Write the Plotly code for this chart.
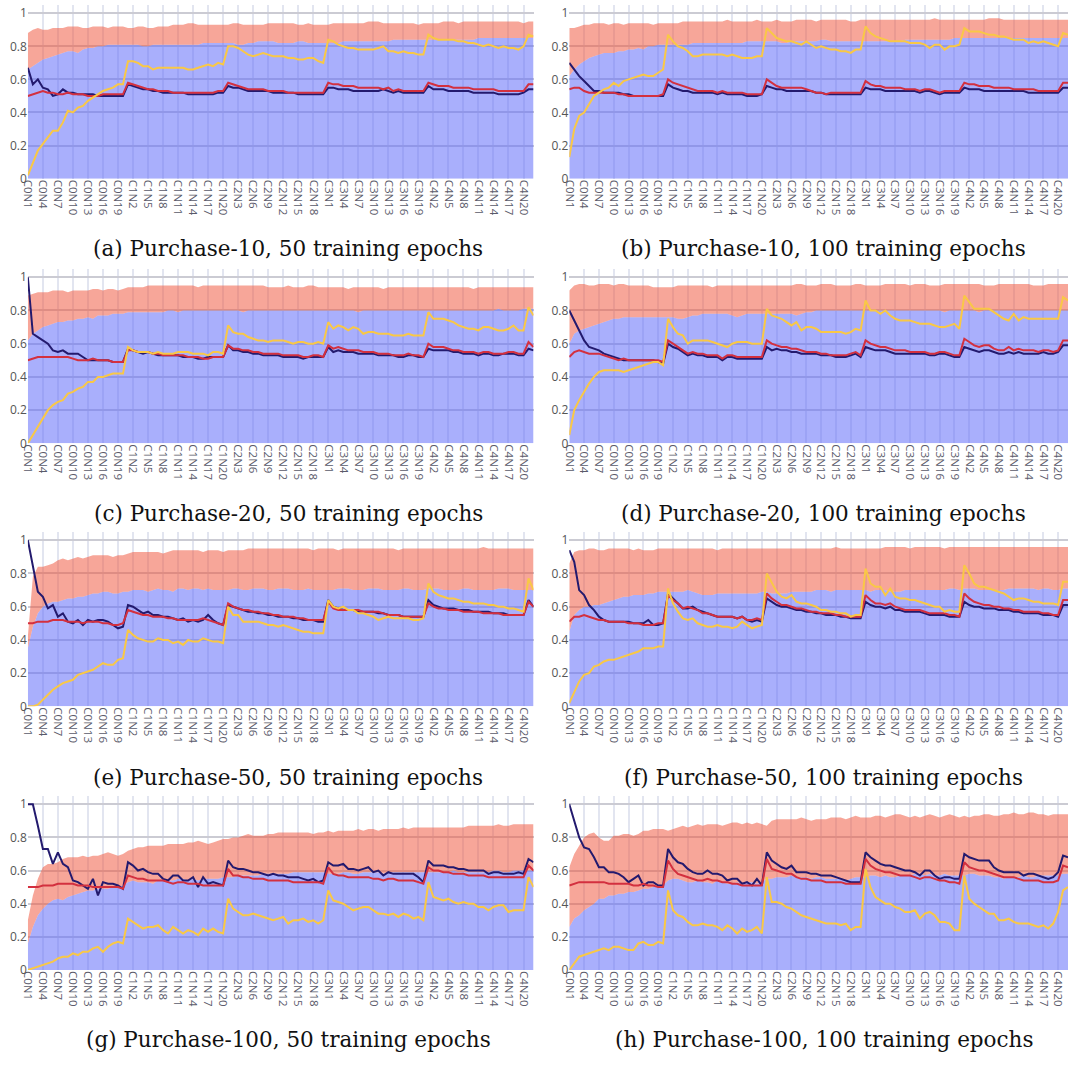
import plotly.graph_objects as go

# ---------------- categories ----------------
group_names = ["C0", "C1", "C2", "C3", "C4", "C5"]
group_sizes = [20, 20, 20, 20, 20, 2]
categories = [f"{g}N{k}" for g, n in zip(group_names, group_sizes) for k in range(1, n + 1)]

captions = [
    "(a) Purchase-10, 50 training epochs", "(b) Purchase-10, 100 training epochs",
    "(c) Purchase-20, 50 training epochs", "(d) Purchase-20, 100 training epochs",
    "(e) Purchase-50, 50 training epochs", "(f) Purchase-50, 100 training epochs",
    "(g) Purchase-100, 50 training epochs", "(h) Purchase-100, 100 training epochs",
]

# ---------------- panel (a) ----------------
a_blue = [0.66,0.68,0.70,0.72,0.73,0.74,0.75,0.76,0.77,0.77,0.76,0.78,0.79,0.79,0.80,0.80,0.81,0.81,0.81,0.81,
          0.81,0.81,0.81,0.80,0.80,0.81,0.81,0.81,0.81,0.81,0.81,0.81,0.81,0.81,0.81,0.82,0.82,0.82,0.82,0.82,
          0.82,0.82,0.81,0.81,0.82,0.82,0.83,0.83,0.83,0.83,0.82,0.82,0.82,0.82,0.83,0.83,0.82,0.82,0.82,0.82,
          0.82,0.82,0.82,0.83,0.83,0.83,0.83,0.83,0.83,0.83,0.83,0.83,0.83,0.84,0.84,0.84,0.84,0.84,0.84,0.84,
          0.84,0.84,0.84,0.84,0.84,0.84,0.84,0.84,0.84,0.84,0.85,0.85,0.85,0.85,0.85,0.85,0.85,0.85,0.85,0.85,
          0.85,0.85]
a_train = [0.88,0.90,0.91,0.90,0.90,0.91,0.91,0.91,0.92,0.92,0.92,0.91,0.91,0.92,0.92,0.92,0.91,0.92,0.92,0.92,
           0.91,0.91,0.92,0.92,0.91,0.91,0.92,0.92,0.92,0.93,0.93,0.93,0.94,0.94,0.93,0.93,0.93,0.93,0.93,0.93,
           0.93,0.94,0.94,0.93,0.93,0.93,0.93,0.93,0.94,0.94,0.94,0.94,0.94,0.94,0.93,0.93,0.94,0.93,0.93,0.93,
           0.93,0.94,0.94,0.94,0.94,0.94,0.94,0.94,0.95,0.95,0.95,0.94,0.94,0.94,0.94,0.94,0.94,0.94,0.93,0.94,
           0.94,0.94,0.94,0.95,0.95,0.95,0.94,0.95,0.95,0.95,0.95,0.95,0.95,0.95,0.95,0.95,0.95,0.95,0.95,0.94,
           0.95,0.95]
a_navy = [0.67,0.57,0.60,0.55,0.54,0.50,0.51,0.54,0.52,0.52,0.51,0.51,0.51,0.51,0.50,0.50,0.50,0.50,0.50,0.50,
          0.57,0.56,0.55,0.54,0.54,0.53,0.53,0.52,0.52,0.52,0.52,0.52,0.51,0.51,0.51,0.51,0.51,0.51,0.52,0.52,
          0.56,0.55,0.55,0.54,0.53,0.53,0.53,0.53,0.53,0.52,0.52,0.52,0.52,0.52,0.51,0.51,0.51,0.51,0.51,0.51,
          0.55,0.55,0.54,0.54,0.54,0.53,0.53,0.53,0.53,0.53,0.53,0.54,0.53,0.52,0.53,0.52,0.52,0.52,0.52,0.52,
          0.56,0.54,0.54,0.54,0.53,0.53,0.53,0.53,0.53,0.52,0.52,0.52,0.52,0.52,0.51,0.51,0.51,0.51,0.51,0.52,
          0.54,0.54]
a_red = [0.50,0.51,0.52,0.53,0.52,0.52,0.51,0.51,0.52,0.51,0.51,0.51,0.50,0.50,0.50,0.51,0.51,0.51,0.51,0.51,
         0.58,0.57,0.56,0.55,0.54,0.54,0.53,0.53,0.53,0.52,0.52,0.52,0.52,0.52,0.52,0.52,0.52,0.52,0.53,0.53,
         0.58,0.57,0.56,0.55,0.54,0.54,0.54,0.54,0.53,0.53,0.53,0.53,0.52,0.52,0.52,0.52,0.52,0.52,0.52,0.52,
         0.58,0.57,0.57,0.56,0.56,0.56,0.55,0.55,0.55,0.55,0.55,0.54,0.55,0.53,0.54,0.53,0.53,0.53,0.53,0.53,
         0.58,0.57,0.56,0.56,0.56,0.55,0.55,0.55,0.55,0.54,0.54,0.54,0.54,0.54,0.53,0.53,0.53,0.53,0.53,0.53,
         0.57,0.57]
a_yellow = [0.02,0.10,0.17,0.21,0.25,0.29,0.29,0.34,0.41,0.40,0.43,0.44,0.47,0.49,0.51,0.53,0.54,0.55,0.57,0.57,
            0.71,0.71,0.70,0.68,0.68,0.66,0.67,0.67,0.67,0.67,0.67,0.67,0.66,0.66,0.67,0.68,0.69,0.68,0.70,0.69,
            0.80,0.80,0.79,0.77,0.75,0.74,0.75,0.76,0.75,0.74,0.74,0.74,0.73,0.73,0.72,0.72,0.73,0.73,0.71,0.70,
            0.84,0.83,0.81,0.80,0.79,0.79,0.78,0.78,0.78,0.78,0.79,0.80,0.77,0.77,0.76,0.77,0.76,0.76,0.75,0.75,
            0.87,0.85,0.84,0.84,0.84,0.84,0.83,0.83,0.82,0.82,0.81,0.80,0.81,0.80,0.79,0.80,0.79,0.79,0.78,0.80,
            0.87,0.86]

# ---------------- panel (b) ----------------
b_blue = [0.62,0.66,0.69,0.71,0.73,0.74,0.75,0.76,0.76,0.76,0.77,0.77,0.78,0.78,0.79,0.78,0.80,0.80,0.81,0.81,
          0.81,0.81,0.81,0.81,0.81,0.82,0.82,0.82,0.82,0.82,0.82,0.82,0.82,0.82,0.82,0.82,0.83,0.83,0.83,0.83,
          0.83,0.83,0.83,0.82,0.82,0.83,0.83,0.83,0.83,0.83,0.83,0.84,0.84,0.83,0.83,0.83,0.83,0.83,0.83,0.83,
          0.83,0.83,0.83,0.83,0.83,0.83,0.83,0.83,0.84,0.84,0.84,0.84,0.84,0.84,0.84,0.84,0.84,0.84,0.85,0.85,
          0.85,0.85,0.85,0.85,0.85,0.85,0.85,0.85,0.85,0.85,0.85,0.85,0.85,0.85,0.85,0.85,0.85,0.85,0.85,0.85,
          0.85,0.85]
b_train = [0.91,0.91,0.92,0.93,0.93,0.94,0.94,0.94,0.93,0.94,0.94,0.93,0.94,0.94,0.94,0.94,0.94,0.93,0.94,0.94,
           0.94,0.94,0.94,0.95,0.95,0.95,0.95,0.95,0.95,0.95,0.95,0.95,0.96,0.95,0.95,0.95,0.95,0.95,0.96,0.95,
           0.95,0.95,0.96,0.95,0.95,0.95,0.96,0.96,0.96,0.96,0.95,0.96,0.96,0.96,0.96,0.96,0.96,0.95,0.95,0.96,
           0.96,0.96,0.96,0.96,0.96,0.96,0.96,0.96,0.96,0.96,0.96,0.96,0.96,0.96,0.97,0.96,0.96,0.96,0.96,0.96,
           0.96,0.96,0.96,0.96,0.96,0.97,0.97,0.97,0.96,0.96,0.96,0.96,0.96,0.96,0.96,0.96,0.96,0.96,0.96,0.96,
           0.96,0.96]
b_navy = [0.70,0.66,0.62,0.59,0.56,0.53,0.53,0.52,0.52,0.52,0.52,0.51,0.51,0.50,0.50,0.50,0.50,0.50,0.50,0.50,
          0.57,0.55,0.54,0.53,0.53,0.52,0.52,0.52,0.52,0.52,0.51,0.52,0.51,0.51,0.51,0.51,0.50,0.50,0.50,0.51,
          0.56,0.55,0.54,0.54,0.53,0.53,0.53,0.53,0.53,0.53,0.52,0.52,0.51,0.51,0.51,0.51,0.51,0.51,0.51,0.51,
          0.55,0.54,0.54,0.54,0.53,0.53,0.53,0.53,0.53,0.53,0.53,0.52,0.53,0.53,0.52,0.51,0.52,0.52,0.52,0.52,
          0.55,0.54,0.54,0.54,0.53,0.53,0.53,0.53,0.53,0.53,0.53,0.53,0.53,0.52,0.52,0.52,0.52,0.52,0.52,0.52,
          0.55,0.55]
b_red = [0.54,0.55,0.55,0.53,0.52,0.52,0.52,0.52,0.52,0.52,0.51,0.51,0.50,0.50,0.50,0.50,0.50,0.50,0.50,0.51,
         0.60,0.58,0.57,0.56,0.55,0.54,0.53,0.53,0.53,0.53,0.52,0.53,0.52,0.52,0.52,0.52,0.51,0.51,0.51,0.51,
         0.60,0.58,0.56,0.55,0.55,0.55,0.55,0.55,0.54,0.53,0.52,0.52,0.51,0.52,0.52,0.52,0.52,0.52,0.52,0.52,
         0.59,0.57,0.56,0.56,0.55,0.55,0.55,0.55,0.54,0.54,0.54,0.53,0.54,0.54,0.53,0.52,0.53,0.53,0.53,0.53,
         0.58,0.57,0.57,0.56,0.56,0.56,0.55,0.55,0.55,0.55,0.54,0.54,0.54,0.54,0.54,0.53,0.53,0.53,0.53,0.53,
         0.58,0.58]
b_yellow = [0.13,0.30,0.38,0.40,0.45,0.50,0.52,0.54,0.55,0.58,0.56,0.59,0.60,0.61,0.62,0.63,0.62,0.62,0.64,0.66,
            0.87,0.83,0.80,0.79,0.77,0.74,0.74,0.75,0.75,0.75,0.75,0.75,0.74,0.75,0.74,0.73,0.73,0.73,0.74,0.74,
            0.91,0.88,0.85,0.84,0.83,0.83,0.82,0.81,0.83,0.81,0.79,0.80,0.79,0.78,0.78,0.77,0.77,0.76,0.78,0.78,
            0.92,0.88,0.86,0.85,0.84,0.83,0.83,0.83,0.83,0.82,0.82,0.82,0.81,0.79,0.81,0.81,0.78,0.80,0.80,0.81,
            0.91,0.89,0.89,0.89,0.88,0.87,0.87,0.86,0.86,0.85,0.84,0.84,0.84,0.82,0.83,0.82,0.83,0.82,0.81,0.80,
            0.88,0.87]

# ---------------- panel (c) ----------------
c_blue = [0.62,0.66,0.68,0.70,0.71,0.72,0.73,0.73,0.74,0.74,0.75,0.75,0.76,0.75,0.77,0.77,0.77,0.78,0.78,0.78,
          0.79,0.79,0.79,0.79,0.79,0.79,0.79,0.79,0.80,0.80,0.79,0.80,0.80,0.80,0.80,0.80,0.80,0.80,0.80,0.80,
          0.80,0.80,0.80,0.79,0.80,0.80,0.80,0.80,0.80,0.80,0.80,0.80,0.80,0.80,0.80,0.80,0.80,0.80,0.80,0.80,
          0.80,0.80,0.80,0.80,0.80,0.80,0.79,0.80,0.80,0.80,0.80,0.80,0.80,0.80,0.80,0.80,0.80,0.80,0.80,0.80,
          0.80,0.80,0.80,0.80,0.80,0.80,0.80,0.80,0.80,0.80,0.80,0.80,0.80,0.80,0.81,0.80,0.80,0.80,0.80,0.81,
          0.81,0.81]
c_train = [0.89,0.90,0.91,0.91,0.91,0.92,0.92,0.92,0.91,0.92,0.92,0.92,0.92,0.93,0.93,0.92,0.93,0.93,0.92,0.93,
           0.94,0.94,0.94,0.94,0.95,0.95,0.95,0.95,0.95,0.95,0.95,0.95,0.95,0.95,0.94,0.95,0.95,0.95,0.95,0.95,
           0.95,0.95,0.95,0.95,0.95,0.95,0.95,0.95,0.94,0.94,0.94,0.94,0.95,0.94,0.94,0.94,0.95,0.95,0.94,0.94,
           0.94,0.94,0.94,0.94,0.93,0.94,0.94,0.94,0.94,0.94,0.94,0.93,0.94,0.94,0.94,0.94,0.94,0.94,0.94,0.94,
           0.94,0.94,0.94,0.94,0.94,0.94,0.94,0.94,0.94,0.93,0.94,0.94,0.94,0.94,0.94,0.94,0.94,0.94,0.94,0.94,
           0.94,0.94]
c_navy = [1.00,0.66,0.64,0.62,0.60,0.56,0.55,0.56,0.54,0.54,0.54,0.52,0.50,0.50,0.50,0.50,0.50,0.49,0.49,0.49,
          0.57,0.56,0.55,0.54,0.55,0.54,0.53,0.53,0.53,0.53,0.53,0.52,0.52,0.52,0.51,0.51,0.52,0.52,0.52,0.52,
          0.59,0.56,0.56,0.55,0.55,0.54,0.54,0.53,0.53,0.53,0.53,0.52,0.52,0.52,0.52,0.51,0.52,0.52,0.52,0.52,
          0.58,0.55,0.56,0.55,0.55,0.55,0.54,0.54,0.54,0.54,0.53,0.53,0.53,0.53,0.52,0.52,0.53,0.53,0.52,0.52,
          0.57,0.56,0.56,0.56,0.56,0.55,0.55,0.54,0.54,0.54,0.53,0.54,0.54,0.53,0.53,0.54,0.54,0.54,0.53,0.53,
          0.57,0.56]
c_red = [0.50,0.51,0.52,0.52,0.52,0.52,0.52,0.52,0.52,0.51,0.50,0.50,0.50,0.51,0.50,0.50,0.50,0.49,0.49,0.49,
         0.56,0.56,0.55,0.55,0.55,0.54,0.54,0.53,0.53,0.53,0.53,0.53,0.52,0.52,0.52,0.51,0.51,0.52,0.52,0.52,
         0.59,0.57,0.57,0.56,0.56,0.55,0.55,0.54,0.54,0.54,0.54,0.53,0.53,0.53,0.53,0.52,0.52,0.53,0.53,0.52,
         0.59,0.57,0.58,0.57,0.56,0.56,0.56,0.55,0.55,0.55,0.54,0.54,0.54,0.53,0.53,0.53,0.54,0.53,0.53,0.52,
         0.60,0.58,0.58,0.58,0.57,0.56,0.56,0.55,0.55,0.55,0.54,0.55,0.55,0.54,0.54,0.54,0.55,0.55,0.54,0.54,
         0.61,0.58]
c_yellow = [0.00,0.05,0.10,0.15,0.20,0.23,0.25,0.26,0.30,0.31,0.33,0.34,0.37,0.37,0.40,0.40,0.41,0.42,0.42,0.42,
            0.58,0.56,0.55,0.55,0.55,0.54,0.55,0.54,0.54,0.54,0.55,0.55,0.55,0.54,0.54,0.54,0.53,0.55,0.55,0.54,
            0.71,0.67,0.66,0.66,0.64,0.63,0.62,0.62,0.61,0.62,0.62,0.62,0.61,0.60,0.61,0.61,0.60,0.60,0.61,0.60,
            0.73,0.69,0.71,0.70,0.68,0.70,0.69,0.66,0.67,0.67,0.66,0.66,0.66,0.65,0.65,0.65,0.66,0.65,0.65,0.65,
            0.79,0.75,0.75,0.75,0.74,0.73,0.71,0.70,0.69,0.69,0.68,0.70,0.70,0.69,0.68,0.68,0.69,0.71,0.68,0.68,
            0.82,0.77]

# ---------------- panel (d) ----------------
d_blue = [0.60,0.66,0.68,0.69,0.70,0.71,0.72,0.73,0.74,0.75,0.75,0.76,0.76,0.76,0.76,0.76,0.76,0.76,0.76,0.76,
          0.76,0.76,0.75,0.75,0.76,0.77,0.77,0.78,0.78,0.78,0.78,0.78,0.78,0.77,0.76,0.77,0.78,0.78,0.78,0.78,
          0.78,0.78,0.78,0.78,0.78,0.78,0.77,0.78,0.79,0.79,0.80,0.80,0.80,0.80,0.80,0.80,0.80,0.80,0.80,0.80,
          0.80,0.80,0.80,0.80,0.80,0.80,0.80,0.80,0.80,0.80,0.80,0.80,0.80,0.80,0.80,0.80,0.79,0.80,0.80,0.80,
          0.80,0.80,0.80,0.79,0.80,0.80,0.80,0.80,0.80,0.80,0.80,0.80,0.80,0.80,0.80,0.80,0.80,0.80,0.80,0.80,
          0.80,0.80]
d_train = [0.92,0.95,0.96,0.96,0.95,0.95,0.96,0.96,0.96,0.95,0.96,0.96,0.95,0.95,0.95,0.95,0.95,0.94,0.94,0.94,
           0.94,0.94,0.95,0.95,0.95,0.95,0.95,0.95,0.95,0.94,0.95,0.95,0.95,0.95,0.95,0.95,0.95,0.95,0.95,0.95,
           0.95,0.95,0.95,0.95,0.95,0.95,0.96,0.96,0.95,0.95,0.95,0.96,0.96,0.96,0.95,0.95,0.95,0.95,0.96,0.96,
           0.95,0.95,0.95,0.95,0.96,0.96,0.96,0.96,0.96,0.95,0.96,0.96,0.96,0.95,0.95,0.95,0.96,0.96,0.96,0.96,
           0.96,0.96,0.96,0.96,0.95,0.95,0.95,0.96,0.96,0.96,0.96,0.96,0.96,0.96,0.95,0.95,0.95,0.96,0.96,0.96,
           0.96,0.96]
d_navy = [0.80,0.74,0.68,0.62,0.58,0.57,0.56,0.54,0.53,0.52,0.51,0.50,0.50,0.50,0.50,0.50,0.50,0.50,0.49,0.48,
          0.60,0.58,0.57,0.55,0.53,0.54,0.53,0.53,0.52,0.52,0.52,0.50,0.52,0.52,0.51,0.51,0.51,0.51,0.51,0.51,
          0.58,0.56,0.57,0.56,0.56,0.55,0.55,0.54,0.54,0.54,0.54,0.53,0.53,0.53,0.52,0.52,0.52,0.53,0.54,0.52,
          0.58,0.57,0.56,0.56,0.56,0.55,0.54,0.54,0.54,0.54,0.54,0.54,0.54,0.53,0.53,0.54,0.54,0.53,0.52,0.52,
          0.58,0.57,0.56,0.55,0.56,0.56,0.55,0.54,0.54,0.55,0.54,0.55,0.54,0.54,0.54,0.54,0.55,0.54,0.54,0.55,
          0.59,0.59]
d_red = [0.52,0.55,0.56,0.55,0.54,0.54,0.54,0.53,0.52,0.51,0.50,0.51,0.50,0.50,0.50,0.50,0.50,0.50,0.50,0.49,
         0.62,0.60,0.58,0.56,0.54,0.55,0.54,0.54,0.53,0.53,0.53,0.51,0.53,0.53,0.52,0.52,0.52,0.52,0.52,0.52,
         0.62,0.60,0.59,0.58,0.58,0.57,0.57,0.56,0.55,0.55,0.55,0.54,0.54,0.53,0.53,0.53,0.53,0.54,0.55,0.53,
         0.62,0.60,0.59,0.58,0.58,0.57,0.56,0.56,0.56,0.55,0.55,0.55,0.55,0.54,0.54,0.55,0.55,0.54,0.53,0.53,
         0.63,0.61,0.59,0.58,0.59,0.59,0.57,0.56,0.56,0.58,0.56,0.57,0.56,0.56,0.56,0.55,0.56,0.56,0.55,0.56,
         0.62,0.62]
d_yellow = [0.05,0.20,0.26,0.31,0.36,0.40,0.43,0.44,0.44,0.44,0.44,0.43,0.44,0.45,0.46,0.47,0.48,0.49,0.49,0.47,
            0.75,0.70,0.66,0.65,0.60,0.62,0.62,0.62,0.62,0.61,0.60,0.59,0.58,0.60,0.61,0.61,0.61,0.60,0.60,0.60,
            0.81,0.77,0.76,0.75,0.73,0.71,0.73,0.68,0.70,0.70,0.69,0.67,0.67,0.67,0.67,0.67,0.66,0.67,0.69,0.68,
            0.86,0.80,0.80,0.78,0.80,0.77,0.75,0.74,0.74,0.74,0.73,0.72,0.72,0.72,0.71,0.70,0.70,0.71,0.72,0.69,
            0.89,0.85,0.81,0.81,0.81,0.81,0.79,0.77,0.75,0.74,0.78,0.74,0.76,0.75,0.75,0.75,0.75,0.75,0.75,0.75,
            0.88,0.86]

# ---------------- panel (e) ----------------
e_blue = [0.35,0.48,0.56,0.60,0.62,0.63,0.63,0.64,0.65,0.65,0.66,0.66,0.67,0.68,0.68,0.69,0.69,0.68,0.68,0.69,
          0.69,0.70,0.70,0.70,0.69,0.70,0.71,0.70,0.70,0.69,0.71,0.71,0.70,0.71,0.71,0.70,0.71,0.70,0.70,0.70,
          0.70,0.71,0.71,0.70,0.70,0.71,0.71,0.71,0.70,0.70,0.71,0.71,0.71,0.70,0.70,0.70,0.71,0.70,0.70,0.70,
          0.70,0.70,0.71,0.71,0.71,0.70,0.70,0.70,0.71,0.71,0.71,0.70,0.70,0.70,0.70,0.71,0.71,0.70,0.70,0.70,
          0.71,0.71,0.71,0.70,0.70,0.70,0.70,0.71,0.71,0.70,0.70,0.70,0.70,0.70,0.71,0.71,0.71,0.70,0.70,0.70,
          0.70,0.70]
e_train = [0.42,0.78,0.84,0.84,0.85,0.86,0.88,0.89,0.88,0.89,0.90,0.89,0.90,0.91,0.91,0.91,0.91,0.90,0.91,0.91,
           0.92,0.93,0.93,0.93,0.93,0.93,0.93,0.92,0.93,0.94,0.94,0.94,0.94,0.94,0.94,0.93,0.94,0.94,0.94,0.93,
           0.94,0.94,0.94,0.94,0.95,0.95,0.95,0.95,0.95,0.95,0.95,0.95,0.95,0.95,0.95,0.95,0.95,0.94,0.95,0.95,
           0.95,0.95,0.94,0.95,0.95,0.95,0.95,0.95,0.95,0.95,0.95,0.95,0.95,0.95,0.94,0.95,0.95,0.95,0.95,0.95,
           0.95,0.95,0.95,0.95,0.95,0.95,0.95,0.95,0.95,0.95,0.95,0.96,0.95,0.95,0.95,0.95,0.95,0.95,0.95,0.95,
           0.95,0.95]
e_navy = [1.00,0.85,0.69,0.66,0.59,0.61,0.54,0.56,0.51,0.50,0.52,0.49,0.52,0.51,0.52,0.52,0.51,0.49,0.47,0.48,
          0.61,0.60,0.58,0.56,0.57,0.55,0.55,0.54,0.54,0.53,0.52,0.53,0.51,0.52,0.51,0.52,0.55,0.52,0.50,0.49,
          0.61,0.60,0.59,0.58,0.57,0.57,0.56,0.56,0.55,0.55,0.54,0.54,0.54,0.53,0.53,0.52,0.52,0.52,0.51,0.51,
          0.64,0.60,0.59,0.58,0.58,0.58,0.57,0.57,0.57,0.57,0.56,0.56,0.55,0.55,0.55,0.54,0.54,0.54,0.54,0.54,
          0.64,0.61,0.60,0.59,0.59,0.59,0.58,0.58,0.58,0.57,0.57,0.57,0.57,0.56,0.56,0.56,0.55,0.55,0.55,0.55,
          0.64,0.60]
e_red = [0.50,0.50,0.51,0.51,0.51,0.52,0.52,0.52,0.51,0.51,0.51,0.50,0.51,0.51,0.51,0.50,0.50,0.49,0.49,0.50,
         0.58,0.57,0.56,0.55,0.55,0.54,0.54,0.54,0.53,0.53,0.52,0.52,0.52,0.52,0.52,0.53,0.52,0.51,0.50,0.49,
         0.62,0.60,0.59,0.58,0.58,0.57,0.57,0.56,0.56,0.55,0.55,0.54,0.54,0.54,0.53,0.53,0.52,0.52,0.52,0.52,
         0.63,0.59,0.58,0.58,0.58,0.58,0.58,0.57,0.57,0.57,0.57,0.56,0.55,0.55,0.55,0.54,0.54,0.54,0.54,0.54,
         0.62,0.60,0.59,0.59,0.58,0.58,0.58,0.57,0.57,0.57,0.57,0.56,0.56,0.56,0.56,0.55,0.55,0.55,0.55,0.55,
         0.63,0.60]
e_yellow = [0.00,0.00,0.01,0.04,0.07,0.10,0.12,0.14,0.15,0.16,0.19,0.20,0.21,0.22,0.24,0.26,0.25,0.25,0.28,0.29,
            0.46,0.43,0.41,0.40,0.39,0.39,0.41,0.40,0.40,0.38,0.39,0.37,0.40,0.39,0.39,0.41,0.40,0.39,0.39,0.38,
            0.60,0.55,0.55,0.51,0.51,0.51,0.51,0.50,0.49,0.49,0.48,0.49,0.48,0.47,0.46,0.45,0.45,0.44,0.44,0.44,
            0.64,0.60,0.59,0.60,0.58,0.58,0.56,0.56,0.55,0.54,0.52,0.53,0.54,0.53,0.53,0.53,0.53,0.52,0.52,0.53,
            0.74,0.69,0.67,0.66,0.65,0.65,0.64,0.63,0.63,0.62,0.62,0.62,0.61,0.61,0.60,0.60,0.59,0.59,0.58,0.57,
            0.77,0.70]

# ---------------- panel (f) ----------------
f_blue = [0.45,0.55,0.58,0.60,0.60,0.61,0.61,0.62,0.63,0.64,0.65,0.66,0.66,0.67,0.67,0.67,0.68,0.68,0.69,0.69,
          0.69,0.69,0.69,0.69,0.70,0.69,0.68,0.67,0.67,0.67,0.68,0.68,0.68,0.68,0.68,0.68,0.68,0.68,0.68,0.69,
          0.69,0.68,0.68,0.68,0.68,0.69,0.69,0.69,0.69,0.69,0.70,0.70,0.70,0.69,0.70,0.70,0.70,0.70,0.70,0.70,
          0.70,0.69,0.70,0.70,0.70,0.69,0.69,0.69,0.70,0.70,0.70,0.70,0.70,0.70,0.70,0.70,0.70,0.71,0.71,0.70,
          0.71,0.71,0.71,0.70,0.70,0.70,0.70,0.70,0.70,0.71,0.71,0.71,0.71,0.71,0.71,0.70,0.71,0.71,0.70,0.70,
          0.71,0.71]
f_train = [0.86,0.93,0.94,0.94,0.95,0.95,0.94,0.94,0.95,0.95,0.95,0.95,0.95,0.94,0.95,0.94,0.94,0.94,0.95,0.95,
           0.95,0.95,0.95,0.95,0.95,0.95,0.95,0.95,0.95,0.95,0.94,0.95,0.95,0.95,0.95,0.95,0.95,0.95,0.95,0.95,
           0.95,0.95,0.95,0.95,0.95,0.95,0.95,0.95,0.95,0.95,0.95,0.95,0.95,0.95,0.96,0.95,0.95,0.95,0.95,0.95,
           0.95,0.95,0.95,0.95,0.96,0.96,0.96,0.96,0.96,0.95,0.96,0.96,0.96,0.96,0.96,0.96,0.95,0.96,0.96,0.96,
           0.96,0.96,0.96,0.96,0.96,0.96,0.96,0.96,0.96,0.96,0.96,0.96,0.96,0.96,0.96,0.96,0.96,0.96,0.96,0.96,
           0.96,0.96]
f_navy = [0.94,0.87,0.70,0.67,0.61,0.58,0.54,0.52,0.51,0.51,0.51,0.51,0.51,0.50,0.50,0.50,0.52,0.49,0.49,0.50,
          0.68,0.65,0.62,0.59,0.59,0.60,0.58,0.57,0.56,0.55,0.54,0.54,0.54,0.54,0.53,0.54,0.52,0.51,0.52,0.51,
          0.65,0.63,0.61,0.60,0.60,0.59,0.58,0.58,0.57,0.57,0.56,0.56,0.55,0.55,0.55,0.54,0.54,0.53,0.53,0.53,
          0.63,0.61,0.60,0.60,0.59,0.60,0.58,0.58,0.57,0.57,0.57,0.57,0.56,0.55,0.55,0.55,0.55,0.54,0.54,0.54,
          0.63,0.61,0.60,0.60,0.59,0.59,0.59,0.58,0.58,0.58,0.57,0.57,0.56,0.56,0.56,0.56,0.55,0.55,0.55,0.54,
          0.61,0.61]
f_red = [0.51,0.54,0.54,0.55,0.54,0.53,0.52,0.52,0.51,0.51,0.51,0.51,0.50,0.50,0.50,0.49,0.49,0.49,0.50,0.50,
         0.67,0.64,0.62,0.59,0.60,0.59,0.58,0.56,0.56,0.55,0.54,0.54,0.54,0.54,0.53,0.54,0.52,0.52,0.53,0.52,
         0.68,0.65,0.63,0.61,0.61,0.60,0.59,0.59,0.58,0.57,0.57,0.56,0.56,0.56,0.55,0.55,0.54,0.54,0.54,0.54,
         0.67,0.64,0.62,0.62,0.61,0.62,0.60,0.59,0.58,0.58,0.58,0.58,0.57,0.56,0.56,0.56,0.56,0.55,0.55,0.54,
         0.68,0.65,0.63,0.62,0.61,0.61,0.60,0.60,0.59,0.59,0.58,0.58,0.57,0.57,0.57,0.57,0.56,0.56,0.55,0.55,
         0.64,0.64]
f_yellow = [0.02,0.09,0.15,0.19,0.20,0.24,0.25,0.27,0.28,0.28,0.29,0.30,0.31,0.32,0.33,0.35,0.35,0.35,0.36,0.36,
            0.71,0.62,0.57,0.53,0.52,0.53,0.50,0.49,0.48,0.48,0.49,0.48,0.48,0.47,0.48,0.51,0.49,0.47,0.48,0.49,
            0.80,0.74,0.69,0.66,0.65,0.67,0.63,0.62,0.62,0.61,0.60,0.58,0.58,0.57,0.57,0.56,0.56,0.54,0.55,0.55,
            0.83,0.74,0.72,0.72,0.67,0.71,0.66,0.65,0.65,0.64,0.64,0.63,0.62,0.61,0.60,0.60,0.57,0.58,0.57,0.57,
            0.85,0.80,0.74,0.72,0.72,0.71,0.70,0.69,0.68,0.66,0.64,0.65,0.65,0.64,0.63,0.63,0.62,0.62,0.62,0.61,
            0.75,0.75]

# ---------------- panel (g) ----------------
g_blue = [0.16,0.26,0.33,0.37,0.40,0.42,0.43,0.42,0.44,0.45,0.46,0.47,0.48,0.48,0.49,0.49,0.49,0.50,0.50,0.51,
          0.53,0.54,0.53,0.53,0.53,0.52,0.54,0.54,0.54,0.54,0.55,0.55,0.54,0.55,0.54,0.55,0.55,0.55,0.55,0.56,
          0.56,0.56,0.57,0.57,0.57,0.57,0.57,0.58,0.58,0.58,0.58,0.58,0.58,0.59,0.59,0.59,0.59,0.59,0.59,0.59,
          0.58,0.58,0.58,0.59,0.59,0.58,0.58,0.59,0.59,0.59,0.59,0.58,0.59,0.59,0.59,0.59,0.59,0.59,0.59,0.59,
          0.59,0.59,0.59,0.59,0.59,0.60,0.59,0.59,0.59,0.59,0.59,0.59,0.59,0.60,0.60,0.59,0.59,0.60,0.60,0.60,
          0.60,0.60]
g_train = [0.30,0.45,0.55,0.62,0.64,0.64,0.65,0.67,0.68,0.68,0.68,0.69,0.68,0.69,0.69,0.70,0.71,0.70,0.69,0.70,
           0.72,0.73,0.74,0.74,0.75,0.75,0.75,0.75,0.76,0.76,0.76,0.76,0.77,0.77,0.78,0.77,0.76,0.77,0.78,0.79,
           0.79,0.80,0.80,0.81,0.82,0.81,0.81,0.81,0.82,0.82,0.83,0.83,0.83,0.83,0.83,0.83,0.83,0.82,0.83,0.83,
           0.84,0.83,0.84,0.84,0.84,0.84,0.85,0.84,0.85,0.85,0.84,0.85,0.85,0.85,0.85,0.86,0.85,0.86,0.86,0.86,
           0.86,0.86,0.86,0.86,0.86,0.86,0.86,0.86,0.87,0.87,0.87,0.87,0.87,0.87,0.88,0.87,0.87,0.88,0.88,0.88,
           0.88,0.88]
g_navy = [1.00,1.00,0.87,0.73,0.73,0.64,0.71,0.64,0.62,0.54,0.53,0.51,0.49,0.55,0.45,0.53,0.52,0.52,0.51,0.49,
          0.65,0.63,0.60,0.61,0.59,0.58,0.58,0.55,0.54,0.57,0.57,0.54,0.54,0.56,0.50,0.56,0.52,0.53,0.52,0.51,
          0.66,0.62,0.61,0.61,0.60,0.59,0.59,0.58,0.57,0.58,0.57,0.57,0.56,0.56,0.56,0.55,0.54,0.55,0.53,0.54,
          0.65,0.63,0.63,0.64,0.61,0.61,0.60,0.61,0.62,0.59,0.60,0.57,0.59,0.58,0.58,0.58,0.58,0.58,0.56,0.53,
          0.66,0.63,0.63,0.63,0.62,0.62,0.61,0.61,0.60,0.60,0.60,0.60,0.58,0.59,0.59,0.58,0.58,0.58,0.59,0.58,
          0.67,0.65]
g_red = [0.50,0.50,0.50,0.51,0.51,0.51,0.52,0.52,0.52,0.52,0.51,0.51,0.51,0.50,0.50,0.50,0.50,0.50,0.50,0.49,
         0.57,0.56,0.55,0.55,0.54,0.54,0.54,0.54,0.53,0.52,0.53,0.53,0.52,0.52,0.52,0.51,0.51,0.51,0.51,0.51,
         0.61,0.57,0.57,0.56,0.56,0.55,0.55,0.55,0.54,0.54,0.54,0.54,0.54,0.53,0.53,0.53,0.53,0.53,0.53,0.52,
         0.62,0.58,0.57,0.57,0.56,0.56,0.56,0.56,0.56,0.55,0.55,0.54,0.55,0.55,0.54,0.54,0.54,0.54,0.53,0.52,
         0.62,0.60,0.60,0.59,0.59,0.58,0.58,0.58,0.57,0.57,0.57,0.57,0.56,0.56,0.56,0.56,0.56,0.56,0.56,0.56,
         0.63,0.60]
g_yellow = [0.00,0.01,0.02,0.03,0.04,0.05,0.07,0.08,0.08,0.10,0.09,0.11,0.11,0.13,0.14,0.11,0.14,0.16,0.17,0.16,
            0.31,0.29,0.27,0.25,0.26,0.26,0.27,0.24,0.22,0.26,0.24,0.22,0.24,0.23,0.21,0.25,0.23,0.25,0.23,0.22,
            0.43,0.37,0.35,0.33,0.33,0.34,0.33,0.32,0.31,0.30,0.31,0.32,0.28,0.30,0.30,0.31,0.29,0.30,0.28,0.30,
            0.48,0.42,0.41,0.40,0.38,0.36,0.37,0.38,0.38,0.36,0.34,0.34,0.33,0.34,0.32,0.34,0.33,0.31,0.32,0.30,
            0.53,0.44,0.43,0.42,0.43,0.41,0.40,0.41,0.40,0.40,0.38,0.38,0.36,0.38,0.39,0.39,0.35,0.36,0.36,0.36,
            0.56,0.50]

# ---------------- panel (h) ----------------
h_blue = [0.26,0.31,0.33,0.36,0.38,0.40,0.43,0.43,0.45,0.45,0.46,0.46,0.47,0.47,0.48,0.49,0.49,0.50,0.50,0.51,
          0.54,0.55,0.55,0.54,0.53,0.53,0.54,0.53,0.53,0.52,0.54,0.53,0.52,0.52,0.53,0.52,0.53,0.53,0.52,0.53,
          0.55,0.55,0.56,0.56,0.56,0.57,0.56,0.56,0.56,0.55,0.56,0.56,0.55,0.55,0.55,0.55,0.54,0.55,0.56,0.56,
          0.56,0.57,0.57,0.56,0.57,0.56,0.56,0.57,0.57,0.57,0.58,0.58,0.57,0.58,0.57,0.57,0.58,0.57,0.57,0.57,
          0.57,0.58,0.58,0.57,0.57,0.57,0.56,0.56,0.55,0.56,0.56,0.56,0.57,0.56,0.56,0.57,0.57,0.57,0.57,0.57,
          0.58,0.58]
h_train = [0.62,0.70,0.75,0.80,0.82,0.83,0.80,0.78,0.78,0.81,0.81,0.82,0.82,0.81,0.82,0.84,0.84,0.85,0.85,0.85,
           0.84,0.85,0.86,0.87,0.86,0.87,0.88,0.87,0.88,0.88,0.88,0.87,0.88,0.89,0.89,0.88,0.89,0.88,0.89,0.88,
           0.87,0.90,0.91,0.91,0.91,0.91,0.91,0.92,0.91,0.90,0.91,0.91,0.91,0.92,0.92,0.92,0.91,0.92,0.93,0.92,
           0.92,0.92,0.93,0.93,0.92,0.93,0.94,0.94,0.93,0.92,0.93,0.92,0.93,0.94,0.93,0.92,0.93,0.94,0.93,0.92,
           0.93,0.92,0.93,0.93,0.94,0.94,0.93,0.93,0.94,0.94,0.95,0.94,0.94,0.95,0.95,0.94,0.94,0.93,0.94,0.94,
           0.94,0.94]
h_navy = [1.00,0.90,0.80,0.74,0.73,0.68,0.62,0.62,0.59,0.59,0.58,0.56,0.53,0.55,0.57,0.51,0.53,0.53,0.51,0.51,
          0.73,0.68,0.65,0.64,0.61,0.59,0.58,0.58,0.60,0.58,0.58,0.57,0.54,0.55,0.55,0.52,0.53,0.51,0.55,0.51,
          0.71,0.66,0.64,0.62,0.61,0.63,0.59,0.59,0.59,0.58,0.58,0.57,0.57,0.57,0.56,0.55,0.54,0.53,0.53,0.53,
          0.71,0.68,0.66,0.64,0.63,0.63,0.62,0.61,0.60,0.60,0.59,0.57,0.60,0.60,0.57,0.55,0.56,0.56,0.55,0.55,
          0.70,0.68,0.67,0.66,0.66,0.66,0.62,0.60,0.59,0.59,0.59,0.59,0.57,0.58,0.58,0.57,0.56,0.55,0.56,0.59,
          0.69,0.68]
h_red = [0.51,0.52,0.53,0.53,0.53,0.53,0.53,0.53,0.52,0.52,0.52,0.52,0.52,0.51,0.51,0.52,0.51,0.51,0.50,0.50,
         0.66,0.61,0.58,0.57,0.56,0.55,0.54,0.54,0.55,0.54,0.54,0.53,0.53,0.52,0.52,0.51,0.51,0.51,0.51,0.51,
         0.67,0.61,0.60,0.59,0.58,0.58,0.56,0.55,0.55,0.54,0.54,0.54,0.53,0.53,0.53,0.53,0.52,0.52,0.52,0.52,
         0.67,0.63,0.61,0.60,0.59,0.59,0.58,0.57,0.57,0.57,0.56,0.55,0.56,0.56,0.55,0.54,0.54,0.53,0.53,0.52,
         0.65,0.62,0.61,0.60,0.60,0.59,0.58,0.57,0.56,0.56,0.56,0.55,0.54,0.54,0.54,0.54,0.53,0.53,0.53,0.54,
         0.63,0.62]
h_yellow = [0.00,0.04,0.08,0.09,0.10,0.11,0.12,0.13,0.12,0.14,0.14,0.13,0.12,0.12,0.16,0.17,0.15,0.15,0.17,0.16,
            0.48,0.36,0.33,0.32,0.29,0.27,0.27,0.28,0.27,0.27,0.26,0.24,0.27,0.25,0.22,0.25,0.23,0.24,0.26,0.22,
            0.56,0.41,0.41,0.40,0.38,0.37,0.35,0.33,0.32,0.31,0.30,0.29,0.28,0.28,0.28,0.27,0.28,0.24,0.26,0.26,
            0.61,0.50,0.44,0.42,0.40,0.40,0.38,0.37,0.35,0.35,0.36,0.31,0.34,0.35,0.33,0.29,0.29,0.28,0.24,0.24,
            0.57,0.43,0.40,0.38,0.36,0.34,0.34,0.30,0.30,0.31,0.29,0.28,0.28,0.28,0.27,0.26,0.27,0.25,0.28,0.35,
            0.48,0.50]

panels = [
    (a_blue, a_train, a_navy, a_red, a_yellow),
    (b_blue, b_train, b_navy, b_red, b_yellow),
    (c_blue, c_train, c_navy, c_red, c_yellow),
    (d_blue, d_train, d_navy, d_red, d_yellow),
    (e_blue, e_train, e_navy, e_red, e_yellow),
    (f_blue, f_train, f_navy, f_red, f_yellow),
    (g_blue, g_train, g_navy, g_red, g_yellow),
    (h_blue, h_train, h_navy, h_red, h_yellow),
]

# ---------------- layout geometry (pixels) ----------------
W, H = 1068, 1066
col_x = [(21, 530), (566, 1068)]
row_y = [(5, 180), (271, 446.7), (536, 711.7), (802, 977.3)]
cap_x = [283, 822]
cap_y = [250, 517, 783, 1047]

BLUE_FILL = "rgba(99,110,250,0.55)"
RED_FILL = "rgba(239,85,59,0.52)"
NAVY = "#231a6e"
RED = "#d3303f"
YELLOW = "#f9c846"

fig = go.Figure()
layout = dict(
    width=W, height=H, margin=dict(l=0, r=0, t=0, b=0),
    paper_bgcolor="white", plot_bgcolor="white", showlegend=False,
    font=dict(family="Open Sans, Roboto, sans-serif", color="#555"),
)
annotations = []

for p, (blue, train, navy, red, yellow) in enumerate(panels):
    r, c = divmod(p, 2)
    k = p + 1
    xa = "x" if k == 1 else f"x{k}"
    ya = "y" if k == 1 else f"y{k}"
    fig.add_trace(go.Scatter(x=categories, y=blue, mode="lines", line=dict(width=0),
                             fill="tozeroy", fillcolor=BLUE_FILL, xaxis=xa, yaxis=ya, hoverinfo="skip"))
    fig.add_trace(go.Scatter(x=categories, y=train, mode="lines", line=dict(width=0),
                             fill="tonexty", fillcolor=RED_FILL, xaxis=xa, yaxis=ya, hoverinfo="skip"))
    fig.add_trace(go.Scatter(x=categories, y=navy, mode="lines", line=dict(color=NAVY, width=2),
                             xaxis=xa, yaxis=ya))
    fig.add_trace(go.Scatter(x=categories, y=red, mode="lines", line=dict(color=RED, width=2),
                             xaxis=xa, yaxis=ya))
    fig.add_trace(go.Scatter(x=categories, y=yellow, mode="lines", line=dict(color=YELLOW, width=2),
                             xaxis=xa, yaxis=ya))

    x0, x1 = col_x[c]
    top, bot = row_y[r]
    xkey = "xaxis" if k == 1 else f"xaxis{k}"
    ykey = "yaxis" if k == 1 else f"yaxis{k}"
    layout[xkey] = dict(
        domain=[x0 / W, x1 / W], anchor=ya, type="category",
        categoryorder="array", categoryarray=categories,
        range=[0, 101], tickmode="linear", tick0=0, dtick=3, tickangle=90,
        showgrid=True, gridcolor="#e2e5f0", gridwidth=1.5, zeroline=False, showline=False,
        ticks="", tickfont=dict(size=11.5, color="#5a5a6a"), fixedrange=True,
    )
    layout[ykey] = dict(
        domain=[1 - bot / H, 1 - top / H], anchor=xa, range=[0, 1.05],
        tickmode="linear", tick0=0, dtick=0.2, showgrid=True, gridcolor="#cbcbd3", gridwidth=2,
        zeroline=False, showline=False, ticks="", tickfont=dict(size=12, color="#555"),
        fixedrange=True,
    )
    annotations.append(dict(
        text=captions[p], xref="paper", yref="paper", x=cap_x[c] / W, y=1 - cap_y[r] / H,
        xanchor="center", yanchor="middle", showarrow=False,
        font=dict(family="DejaVu Serif, Liberation Serif, serif", size=21.5, color="#111"),
    ))

layout["annotations"] = annotations
fig.update_layout(**layout)
fig.write_html("out.html")
